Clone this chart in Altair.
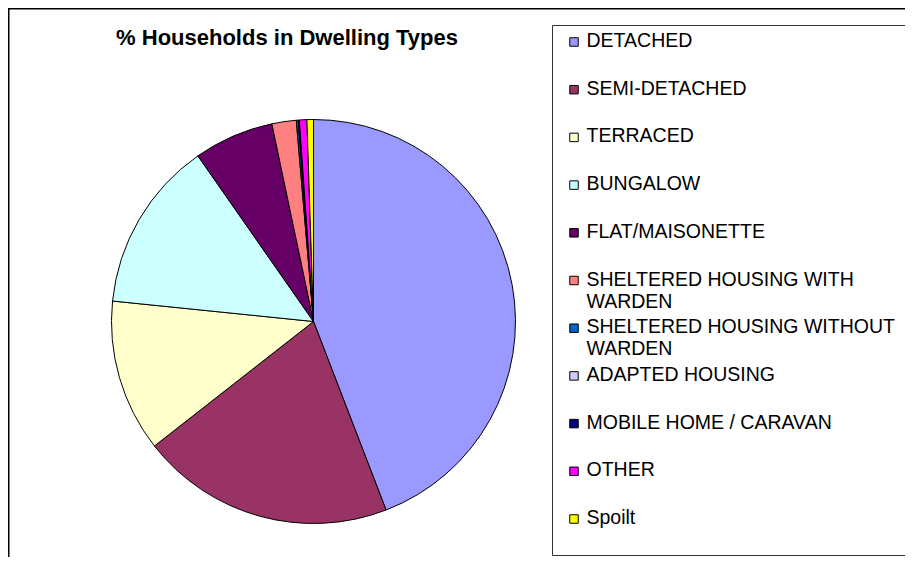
import altair as alt
import pandas as pd

title_text = "% Households in Dwelling Types"
types = ["DETACHED", "SEMI-DETACHED", "TERRACED", "BUNGALOW", "FLAT/MAISONETTE",
         "SHELTERED HOUSING WITH WARDEN", "SHELTERED HOUSING WITHOUT WARDEN",
         "ADAPTED HOUSING", "MOBILE HOME / CARAVAN", "OTHER", "Spoilt"]
labels = ["DETACHED", "SEMI-DETACHED", "TERRACED", "BUNGALOW", "FLAT/MAISONETTE",
          "SHELTERED HOUSING WITH\nWARDEN", "SHELTERED HOUSING WITHOUT\nWARDEN",
          "ADAPTED HOUSING", "MOBILE HOME / CARAVAN", "OTHER", "Spoilt"]
values = [44.2, 20.3, 12.2, 13.7, 6.4, 1.95, 0.15, 0.05, 0.04, 0.6, 0.52]
colors = ["#9999FF", "#993366", "#FFFFCC", "#CCFFFF", "#660066", "#FF8080",
          "#0066CC", "#CCCCFF", "#000080", "#FF00FF", "#FFFF00"]

df = pd.DataFrame({"type": types, "label": labels, "value": values,
                   "idx": list(range(len(types)))})

FONT = "Liberation Sans"
color = alt.Color("type:N", scale=alt.Scale(domain=types, range=colors), legend=None)
ypos = alt.Y("type:N", sort=types, axis=None,
             scale=alt.Scale(type="point", range=[34, 511], padding=0))

one = pd.DataFrame({"t": [title_text]})

frame = alt.Chart(one).mark_rect(fillOpacity=0, stroke="#000000", strokeWidth=1.5).encode(
    x=alt.value(0.75), x2=alt.value(1200), y=alt.value(0.75), y2=alt.value(1200))

legend_box = alt.Chart(one).mark_rect(fill="white", stroke="#333333", strokeWidth=1).encode(
    x=alt.value(544.5), x2=alt.value(1200), y=alt.value(17.5), y2=alt.value(547.5))

title = alt.Chart(one).mark_text(font=FONT, fontSize=22, fontWeight="bold",
                                 align="center", baseline="middle", color="black").encode(
    text="t:N", x=alt.value(279), y=alt.value(30))

pie = alt.Chart(df).mark_arc(outerRadius=202, stroke="black", strokeWidth=1).encode(
    theta=alt.Theta("value:Q", stack=True),
    order=alt.Order("idx:Q"),
    color=color,
    x=alt.value(305.5), y=alt.value(313.5))

swatches = alt.Chart(df).mark_square(size=72, opacity=1, stroke="black", strokeWidth=1).encode(
    x=alt.value(566), y=ypos, color=color, fill=color)

texts = alt.Chart(df).mark_text(font=FONT, fontSize=19.5, align="left", baseline="middle",
                                lineBreak="\n", lineHeight=22, color="black", dy=-1).encode(
    x=alt.value(578.5), y=ypos, text="label:N")

chart = alt.layer(frame, legend_box, title, pie, swatches, texts).properties(
    width=897, height=549, autosize=alt.AutoSizeParams(type="none"), padding=0
).configure_view(strokeWidth=0).configure(background="white")

chart.save("out.html", embed_options={"renderer": "svg", "actions": False})
